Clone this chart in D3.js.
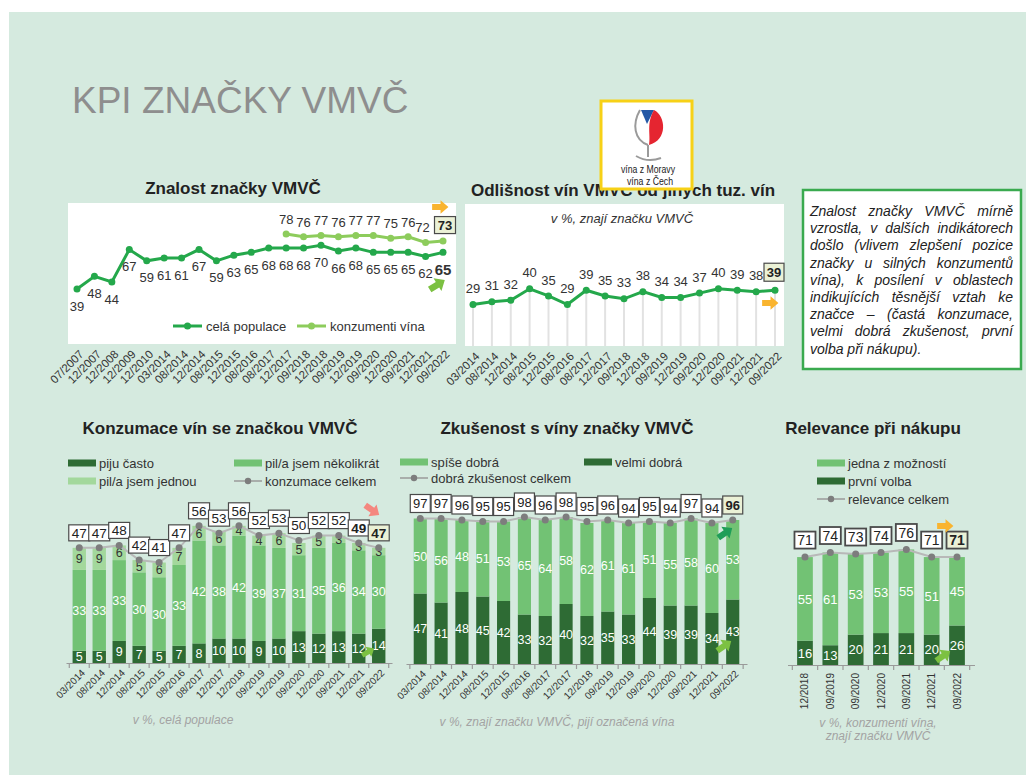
<!DOCTYPE html>
<html>
<head>
<meta charset="utf-8">
<script src="https://cdn.jsdelivr.net/npm/d3@7"></script>
<style>
  body { margin: 0; background: #fff; }
  text { font-family: "Liberation Sans", Arial, sans-serif; }
</style>
</head>
<body>
<svg id="chart"></svg>
<script>
// ---- data ----
const znalostDates = ["07/2007","12/2007","12/2008","12/2009","12/2010","03/2014","08/2014","12/2014","08/2015","12/2015","08/2016","08/2017","12/2017","09/2018","12/2018","09/2019","12/2019","09/2020","12/2020","09/2021","12/2021","09/2022"];
const celaPopulace = [39,48,44,67,59,61,61,67,59,63,65,68,68,68,70,66,68,65,65,65,62,65];
const konzumentiDates = ["12/2017","09/2018","12/2018","09/2019","12/2019","09/2020","12/2020","09/2021","12/2021","09/2022"];
const konzumentiVina = [78,76,77,76,77,77,75,76,72,73];

const odlisnostDates = ["03/2014","08/2014","12/2014","08/2015","12/2015","08/2016","08/2017","12/2017","09/2018","12/2018","09/2019","12/2019","09/2020","12/2020","09/2021","12/2021","09/2022"];
const odlisnost = [29,31,32,40,35,29,39,35,33,38,34,34,37,40,39,38,39];

const vlnyDates = ["03/2014","08/2014","12/2014","08/2015","12/2015","08/2016","08/2017","12/2017","12/2018","09/2019","12/2019","09/2020","12/2020","09/2021","12/2021","09/2022"];
const pijuCasto = [5,5,9,7,5,7,8,10,10,9,10,13,12,13,12,14];
const pilNekolikrat = [33,33,33,30,30,33,42,38,42,39,37,31,35,36,34,30];
const pilJednou = [9,9,6,5,6,7,6,6,4,4,6,5,5,3,3,3];
const konzumaceCelkem = [47,47,48,42,41,47,56,53,56,52,53,50,52,52,49,47];

const velmiDobra = [47,41,48,45,42,33,32,40,32,35,33,44,39,39,34,43];
const spiseDobra = [50,56,48,51,53,65,64,58,62,61,61,51,55,58,60,53];
const zkusenostCelkem = [97,97,96,95,95,98,96,98,95,96,94,95,94,97,94,96];

const relevanceDates = ["12/2018","09/2019","09/2020","12/2020","09/2021","12/2021","09/2022"];
const prvniVolba = [16,13,20,21,21,20,26];
const jednaZMoznosti = [55,61,53,53,55,51,45];
const relevanceCelkem = [71,74,73,74,76,71,71];

const infoLines = [
  "Znalost značky VMVČ mírně",
  "vzrostla, v dalších indikátorech",
  "došlo (vlivem zlepšení pozice",
  "značky u silných konzumentů",
  "vína), k posílení v oblastech",
  "indikujících těsnější vztah ke",
  "značce – (častá konzumace,",
  "velmi dobrá zkušenost, první",
  "volba při nákupu)."
];

// colours
const DARK = "#2e6b34", MID = "#72c274", LIGHT = "#a3d89c";
const LINE1 = "#24a84b", LINE2 = "#8dcc5c";
const ORANGE = "#f9b42f", GREENARR = "#7cc142";

const svg = d3.select("#chart").attr("width", 1026).attr("height", 775);

svg.append("rect").attr("x", 9).attr("y", 12).attr("width", 1017).attr("height", 763).attr("fill", "#d5eadf");

svg.append("text").attr("x", 72).attr("y", 113).attr("font-size", 37).attr("fill", "#8e8e8e").text("KPI ZNAČKY VMVČ");

function title(x, y, txt) {
  svg.append("text").attr("x", x).attr("y", y).attr("text-anchor", "middle")
    .attr("font-size", 17).attr("font-weight", "bold").attr("fill", "#222").text(txt);
}

function arrow(x, y, angle, color, s = 1) {
  svg.append("path")
    .attr("d", "M-7.5,-2.8 H0.5 V-6.5 L8,0 L0.5,6.5 V2.8 H-7.5 Z")
    .attr("transform", `translate(${x},${y}) rotate(${angle}) scale(${s})`)
    .attr("fill", color);
}

function labelBox(g, cx, cy, txt, w, h, hl, fs, sw) {
  g.append("rect").attr("x", cx - w / 2).attr("y", cy - h / 2).attr("width", w).attr("height", h)
    .attr("fill", hl ? "#ebf1d6" : "#fff").attr("stroke", "#4a4a4a").attr("stroke-width", sw || 1.2);
  g.append("text").attr("x", cx).attr("y", cy).attr("dy", "0.36em").attr("text-anchor", "middle")
    .attr("font-size", fs || 13).attr("font-weight", hl ? "bold" : null)
    .attr("fill", "#222").text(txt);
}

function rotatedAxis(g, scale, y, fs) {
  const ax = g.append("g").attr("transform", `translate(0,${y})`)
    .call(d3.axisBottom(scale).tickSize(0).tickPadding(0));
  ax.select(".domain").remove();
  ax.selectAll("text").attr("font-size", fs).attr("fill", "#333")
    .attr("x", 0).attr("y", 0).attr("dy", "0.35em").attr("text-anchor", "end")
    .attr("transform", "translate(4,8) rotate(-45)");
  return ax;
}

// ==========================================
// Znalost značky VMVČ
// ==========================================
{
  const g = svg.append("g");
  title(233, 194, "Znalost značky VMVČ");
  g.append("rect").attr("x", 68).attr("y", 203).attr("width", 388).attr("height", 141).attr("fill", "#fff");
  const x = d3.scalePoint().domain(znalostDates).range([77, 443]);
  const y = d3.scaleLinear().domain([0, 100]).range([344, 203]);

  const line = (dates) => d3.line().x((d, i) => x(dates[i])).y(d => y(d));
  g.append("path").datum(konzumentiVina).attr("d", line(konzumentiDates))
    .attr("fill", "none").attr("stroke", LINE2).attr("stroke-width", 3);
  g.selectAll(null).data(konzumentiVina).join("circle")
    .attr("cx", (d, i) => x(konzumentiDates[i])).attr("cy", d => y(d)).attr("r", 3.5).attr("fill", LINE2);
  g.append("path").datum(celaPopulace).attr("d", line(znalostDates))
    .attr("fill", "none").attr("stroke", LINE1).attr("stroke-width", 3);
  g.selectAll(null).data(celaPopulace).join("circle")
    .attr("cx", (d, i) => x(znalostDates[i])).attr("cy", d => y(d)).attr("r", 3.5).attr("fill", LINE1);

  const last = celaPopulace.length - 1;
  g.selectAll(null).data(celaPopulace).join("text")
    .attr("x", (d, i) => x(znalostDates[i])).attr("y", d => y(d) + 17).attr("dy", "0.36em")
    .attr("text-anchor", "middle").attr("fill", "#333")
    .attr("font-size", (d, i) => i === last ? 15 : 13).attr("font-weight", (d, i) => i === last ? "bold" : null)
    .text(d => d);
  const kl = konzumentiVina.length - 1;
  g.selectAll(null).data(konzumentiVina.slice(0, kl)).join("text")
    .attr("x", (d, i) => x(konzumentiDates[i]) - (i === kl - 1 ? 3 : 0)).attr("y", d => y(d) - 15).attr("dy", "0.36em")
    .attr("text-anchor", "middle").attr("fill", "#333").attr("font-size", 13).text(d => d);
  labelBox(g, x(konzumentiDates[kl]) + 2, y(konzumentiVina[kl]) - 16, konzumentiVina[kl], 21, 17, true, 13);

  // legend
  [[173, LINE1, "celá populace"], [297, LINE2, "konzumenti vína"]].forEach(([lx, c, t]) => {
    g.append("line").attr("x1", lx).attr("x2", lx + 29).attr("y1", 326).attr("y2", 326).attr("stroke", c).attr("stroke-width", 3);
    g.append("circle").attr("cx", lx + 14.5).attr("cy", 326).attr("r", 3.5).attr("fill", c);
    g.append("text").attr("x", lx + 33).attr("y", 326).attr("dy", "0.36em").attr("font-size", 13).attr("fill", "#333").text(t);
  });

  rotatedAxis(g, x, 344, 11.5);
  arrow(440, 207, 0, ORANGE, 1.05);
  arrow(437, 285, -32, GREENARR, 1.15);
}

// ==========================================
// Odlišnost vín VMVČ od jiných tuz. vín
// ==========================================
{
  const g = svg.append("g");
  title(623, 196, "Odlišnost vín VMVČ od jiných tuz. vín");
  g.append("rect").attr("x", 465).attr("y", 204).attr("width", 319).attr("height", 142).attr("fill", "#fff");
  g.append("text").attr("x", 622).attr("y", 218).attr("dy", "0.36em").attr("text-anchor", "middle")
    .attr("font-size", 13).attr("font-style", "italic").attr("fill", "#333").text("v %, znají značku VMVČ");
  const x = d3.scalePoint().domain(odlisnostDates).range([473, 775]);
  const y = d3.scaleLinear().domain([0, 100]).range([346, 203]);
  g.selectAll(null).data(odlisnost).join("line")
    .attr("x1", (d, i) => x(odlisnostDates[i])).attr("x2", (d, i) => x(odlisnostDates[i]))
    .attr("y1", d => y(d)).attr("y2", 346).attr("stroke", "#e2e2e2").attr("stroke-width", 2);
  g.append("path").datum(odlisnost)
    .attr("d", d3.line().x((d, i) => x(odlisnostDates[i])).y(d => y(d)))
    .attr("fill", "none").attr("stroke", LINE1).attr("stroke-width", 3);
  g.selectAll(null).data(odlisnost).join("circle")
    .attr("cx", (d, i) => x(odlisnostDates[i])).attr("cy", d => y(d)).attr("r", 3.5).attr("fill", LINE1);
  const last = odlisnost.length - 1;
  g.selectAll(null).data(odlisnost.slice(0, last)).join("text")
    .attr("x", (d, i) => x(odlisnostDates[i])).attr("y", d => y(d) - 16).attr("dy", "0.36em")
    .attr("text-anchor", "middle").attr("fill", "#333").attr("font-size", 13).text(d => d);
  labelBox(g, x(odlisnostDates[last]) - 1, y(odlisnost[last]) - 18, odlisnost[last], 20, 18, true, 13);
  rotatedAxis(g, x, 346, 11.5);
  arrow(770, 303, 0, ORANGE, 1.05);
}

// ==========================================
// Logo + comment box
// ==========================================
{
  const g = svg.append("g");
  g.append("rect").attr("x", 601).attr("y", 101).attr("width", 91).attr("height", 88)
    .attr("fill", "#fff").attr("stroke", "#f7d117").attr("stroke-width", 3);
  g.append("path").attr("d", "M640,110 C632,124 634,140 648,145").attr("fill", "none").attr("stroke", "#9a9a9a").attr("stroke-width", 2);
  g.append("path").attr("d", "M641,110 L654,110 L647,124 Z").attr("fill", "#2358a6");
  g.append("path").attr("d", "M654,110 C666,116 668,140 649,145 C651,134 646,124 654,110 Z").attr("fill", "#e52530");
  g.append("path").attr("d", "M648,145 L648,157").attr("stroke", "#9a9a9a").attr("stroke-width", 2);
  g.append("path").attr("d", "M636,156 Q648,163 661,158").attr("fill", "none").attr("stroke", "#9a9a9a").attr("stroke-width", 2);
  g.append("text").attr("x", 621).attr("y", 173).attr("font-size", 11).attr("textLength", 54).attr("lengthAdjust", "spacingAndGlyphs")
    .attr("fill", "#222").text("vína z Moravy");
  g.append("text").attr("x", 627).attr("y", 185).attr("font-size", 11).attr("textLength", 46).attr("lengthAdjust", "spacingAndGlyphs")
    .attr("fill", "#222").text("vína z Čech");

  g.append("rect").attr("x", 803).attr("y", 190).attr("width", 218).attr("height", 179)
    .attr("fill", "#fff").attr("stroke", "#3aaa4f").attr("stroke-width", 2.5);
  infoLines.forEach((ln, i) => {
    const t = g.append("text").attr("y", 216 + i * 17.2).attr("font-size", 14)
      .attr("font-style", "italic").attr("fill", "#222");
    if (i === infoLines.length - 1) { t.attr("x", 810).text(ln); return; }
    const words = ln.split(" ");
    const spans = words.map(w => t.append("tspan").text(w));
    const widths = spans.map(s => s.node().getComputedTextLength());
    const gap = (203 - d3.sum(widths)) / (words.length - 1);
    let cx = 810;
    spans.forEach((s, j) => { s.attr("x", cx); cx += widths[j] + gap; });
  });
}

// ==========================================
// stacked bar charts
// ==========================================
function barChart(o) {
  const g = svg.append("g");
  const x = d3.scaleBand().domain(o.dates).range(o.xr).padding(o.pad);
  const y = d3.scaleLinear().domain([0, 100]).range(o.yr);
  const bw = x.bandwidth();
  const rows = o.dates.map((d, i) => {
    const r = { date: d };
    o.series.forEach(s => r[s.key] = s.values[i]);
    return r;
  });
  const layers = d3.stack().keys(o.series.map(s => s.key))(rows);
  layers.forEach((layer, k) => {
    const s = o.series[k];
    g.selectAll(null).data(layer).join("rect")
      .attr("x", d => x(d.data.date)).attr("width", bw)
      .attr("y", d => y(d[1])).attr("height", d => y(d[0]) - y(d[1]))
      .attr("fill", s.color);
  });
  layers.forEach((layer, k) => {
    const s = o.series[k];
    g.selectAll(null).data(layer).join("text")
      .attr("x", d => x(d.data.date) + bw / 2).attr("y", d => (y(d[0]) + y(d[1])) / 2)
      .attr("dy", "0.36em").attr("text-anchor", "middle").attr("font-size", o.fs)
      .attr("fill", s.text).text(d => d.data[s.key]);
  });

  // axis line with ticks between the bars
  const ax = g.append("g").attr("transform", `translate(0,${o.yr[0]})`)
    .call(d3.axisBottom(x).tickSize(0).tickPadding(0));
  ax.select(".domain").attr("stroke", "#9a9a9a").attr("stroke-width", 1.2);
  const gapHalf = x.step() * x.paddingInner() / 2;
  const bounds = o.dates.map(d => x(d) - gapHalf).concat([x(o.dates[o.dates.length - 1]) + bw + gapHalf]);
  g.selectAll(null).data(bounds).join("line")
    .attr("x1", d => d).attr("x2", d => d).attr("y1", o.yr[0]).attr("y2", o.yr[0] + 5)
    .attr("stroke", "#9a9a9a").attr("stroke-width", 1.2);
  const t = ax.selectAll("text").attr("font-size", o.axFs).attr("fill", "#333")
    .attr("x", 0).attr("y", 0).attr("dy", "0.35em").attr("text-anchor", "end");
  if (o.vertical) t.attr("transform", "translate(0,8) rotate(-90)");
  else t.attr("transform", "translate(4,8) rotate(-45)");

  // total line
  const cx = (i) => x(o.dates[i]) + bw / 2;
  g.append("path").datum(o.totals)
    .attr("d", d3.line().x((d, i) => cx(i)).y(d => y(d)))
    .attr("fill", "none").attr("stroke", "#b8b8b8").attr("stroke-width", 2);
  g.selectAll(null).data(o.totals).join("circle")
    .attr("cx", (d, i) => cx(i)).attr("cy", d => y(d)).attr("r", 3.5).attr("fill", "#7d7d7d");
  const n = o.totals.length;
  const boxes = g.append("g");
  o.totals.forEach((v, i) => {
    labelBox(boxes, cx(i), y(v) - o.boxOff, v, o.boxW, o.boxH, i === n - 1, o.boxFs, o.boxSw);
  });
  if (o.boldPrev) boxes.selectAll("text").filter((d, i) => i === n - 2).attr("font-weight", "bold");
  return { g, x, y };
}

function legendSwatch(x, y, color, txt) {
  svg.append("rect").attr("x", x).attr("y", y - 3.5).attr("width", 28).attr("height", 7).attr("fill", color);
  svg.append("text").attr("x", x + 31).attr("y", y).attr("dy", "0.36em").attr("font-size", 13).attr("fill", "#333").text(txt);
}
function legendLine(x, y, txt) {
  svg.append("line").attr("x1", x).attr("x2", x + 28).attr("y1", y).attr("y2", y).attr("stroke", "#9a9a9a").attr("stroke-width", 1.5);
  svg.append("circle").attr("cx", x + 14).attr("cy", y).attr("r", 3.2).attr("fill", "#7d7d7d");
  svg.append("text").attr("x", x + 31).attr("y", y).attr("dy", "0.36em").attr("font-size", 13).attr("fill", "#333").text(txt);
}
function footnote(x, y, txt) {
  svg.append("text").attr("x", x).attr("y", y).attr("dy", "0.36em").attr("text-anchor", "middle")
    .attr("font-size", 12).attr("font-style", "italic").attr("fill", "#a3a3a3").text(txt);
}

// Konzumace vín se značkou VMVČ
title(220, 434, "Konzumace vín se značkou VMVČ");
legendSwatch(68, 463, DARK, "piju často");
legendSwatch(234, 463, MID, "pil/a jsem několikrát");
legendSwatch(68, 481, LIGHT, "pil/a jsem jednou");
legendLine(234, 481, "konzumace celkem");
barChart({
  dates: vlnyDates, xr: [66, 392], yr: [663, 418], pad: 0.33, fs: 12.5, axFs: 10,
  series: [
    { key: "casto", values: pijuCasto, color: DARK, text: "#fff" },
    { key: "nekolikrat", values: pilNekolikrat, color: MID, text: "#fff" },
    { key: "jednou", values: pilJednou, color: LIGHT, text: "#333" }
  ],
  totals: konzumaceCelkem, boxOff: 15, boxW: 21, boxH: 16, boxFs: 13.5, boxSw: 1.2, boldPrev: true
});
footnote(183, 720, "v %, celá populace");
arrow(372, 510, 35, "#f4877f", 1.1);
arrow(368, 652, -30, GREENARR, 0.9);

// Zkušenost s víny značky VMVČ
title(567, 434, "Zkušenost s víny značky VMVČ");
legendSwatch(400, 462, MID, "spíše dobrá");
legendSwatch(584, 462, DARK, "velmi dobrá");
legendLine(400, 478, "dobrá zkušenost celkem");
barChart({
  dates: vlnyDates, xr: [406, 747], yr: [664, 514], pad: 0.37, fs: 12.5, axFs: 10,
  series: [
    { key: "velmi", values: velmiDobra, color: DARK, text: "#fff" },
    { key: "spise", values: spiseDobra, color: MID, text: "#fff" }
  ],
  totals: zkusenostCelkem, boxOff: 15, boxW: 20, boxH: 18, boxFs: 13, boxSw: 1.2
});
footnote(557, 722, "v %, znají značku VMVČ, pijí označená vína");
arrow(725, 533, -35, "#1f9e58", 1.1);
arrow(724, 646, -35, GREENARR, 1.1);

// Relevance při nákupu
title(873, 434, "Relevance při nákupu");
legendSwatch(817, 463, MID, "jedna z možností");
legendSwatch(817, 481, DARK, "první volba");
legendLine(817, 499, "relevance celkem");
barChart({
  dates: relevanceDates, xr: [787.5, 974.5], yr: [665, 513], pad: 0.38, fs: 13, axFs: 10,
  vertical: true,
  series: [
    { key: "prvni", values: prvniVolba, color: DARK, text: "#fff" },
    { key: "jedna", values: jednaZMoznosti, color: MID, text: "#fff" }
  ],
  totals: relevanceCelkem, boxOff: 17, boxW: 21, boxH: 17, boxFs: 14, boxSw: 1.8
});
footnote(878, 723, "v %, konzumenti vína,");
footnote(878, 736, "znají značku VMVČ");
arrow(945, 526, 0, ORANGE, 1.05);
arrow(943, 656, -35, GREENARR, 1.1);
</script>
</body>
</html>
